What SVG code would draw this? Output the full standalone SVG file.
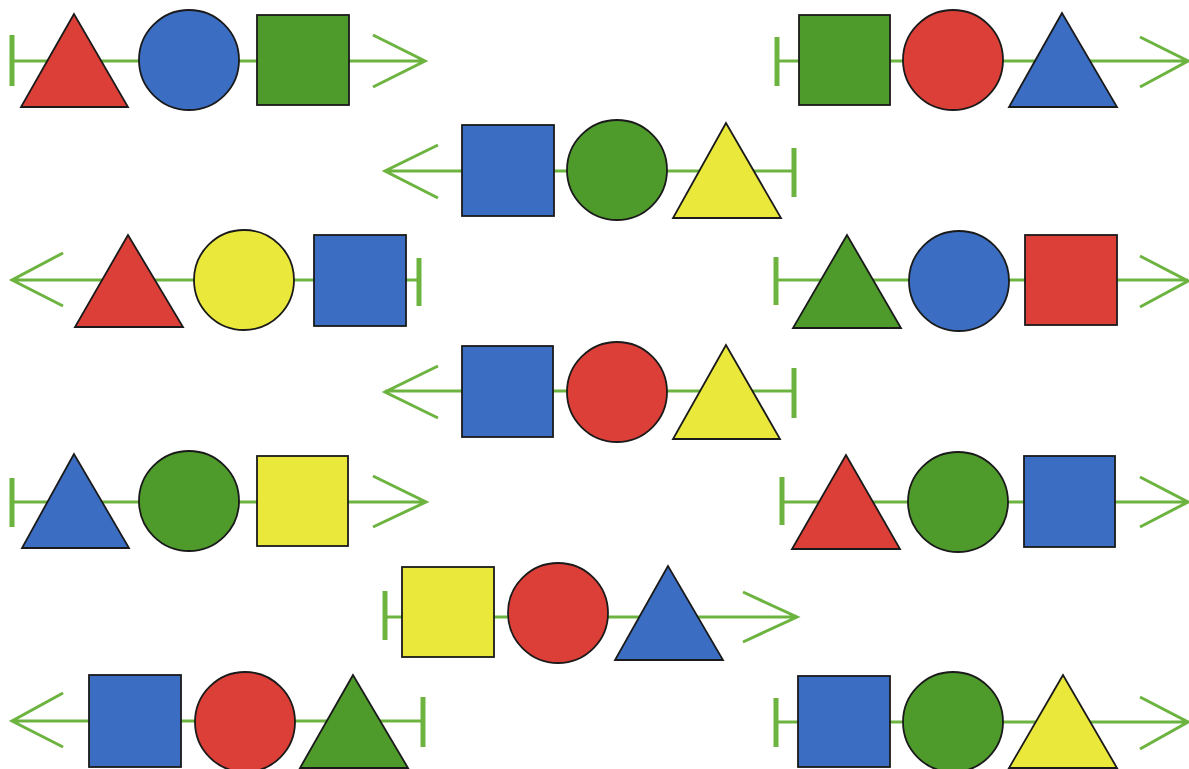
<svg xmlns="http://www.w3.org/2000/svg" width="1189" height="769" viewBox="0 0 1189 769">
<style>
.ln{stroke:#6cb33f;stroke-width:3;fill:none}
.bar{stroke:#6cb33f;stroke-width:5;fill:none}
.sh{stroke:#1a1a1a;stroke-width:1.8}
.r{fill:#dc3f37}
.b{fill:#3b6ec3}
.g{fill:#4e9a2b}
.y{fill:#ebe83c}
</style>
<rect width="1189" height="769" fill="#ffffff"/>
<g id="connectors">
<path class="ln" d="M12 61H425M373 35L425 61L373 87"/><path class="bar" d="M12 35V86"/>
<path class="ln" d="M777 61H1188M1140 37L1188 61L1140 87"/><path class="bar" d="M777 37V86"/>
<path class="ln" d="M385 171H794M438 145L385 171L438 198"/><path class="bar" d="M794 148V197"/>
<path class="ln" d="M12 280H419M63 253L12 280L63 306"/><path class="bar" d="M419 258V306"/>
<path class="ln" d="M776 280H1188M1140 256L1188 281L1140 307"/><path class="bar" d="M776 257V305"/>
<path class="ln" d="M385 391H794M438 366L385 392L438 418"/><path class="bar" d="M794 368V418"/>
<path class="ln" d="M12 502H426M373 476L426 502L373 527"/><path class="bar" d="M12 478V527"/>
<path class="ln" d="M782 502H1188M1140 477L1188 502L1140 527"/><path class="bar" d="M782 477V525"/>
<path class="ln" d="M385 617H797M743 592L797 617L743 642"/><path class="bar" d="M385 591V640"/>
<path class="ln" d="M12 721H423M63 693L12 721L63 747"/><path class="bar" d="M423 697V747"/>
<path class="ln" d="M776 722H1188M1140 697L1188 722L1140 749"/><path class="bar" d="M776 698V747"/>
</g>
<g id="row1-left">
<g id="n1a"><polygon class="sh r" points="74,14 21,107 128,107"/></g>
<g id="n1b"><circle class="sh b" cx="189" cy="60" r="50"/></g>
<g id="n1c"><rect class="sh g" x="257" y="15" width="92" height="90"/></g>
</g>
<g id="row1-right">
<g id="n2a"><rect class="sh g" x="799" y="15" width="91" height="90"/></g>
<g id="n2b"><circle class="sh r" cx="953" cy="60" r="50"/></g>
<g id="n2c"><polygon class="sh b" points="1062,13 1009,107 1117,107"/></g>
</g>
<g id="row2">
<g id="n3a"><rect class="sh b" x="462" y="125" width="92" height="91"/></g>
<g id="n3b"><circle class="sh g" cx="617" cy="170" r="50"/></g>
<g id="n3c"><polygon class="sh y" points="726,123 673,218 781,218"/></g>
</g>
<g id="row3-left">
<g id="n4a"><polygon class="sh r" points="128,235 75,327 183,327"/></g>
<g id="n4b"><circle class="sh y" cx="244" cy="280" r="50"/></g>
<g id="n4c"><rect class="sh b" x="314" y="235" width="92" height="91"/></g>
</g>
<g id="row3-right">
<g id="n5a"><polygon class="sh g" points="847,235 793,328 901,328"/></g>
<g id="n5b"><circle class="sh b" cx="959" cy="281" r="50"/></g>
<g id="n5c"><rect class="sh r" x="1025" y="235" width="92" height="90"/></g>
</g>
<g id="row4">
<g id="n6a"><rect class="sh b" x="462" y="346" width="91" height="91"/></g>
<g id="n6b"><circle class="sh r" cx="617" cy="392" r="50"/></g>
<g id="n6c"><polygon class="sh y" points="726,345 673,439 780,439"/></g>
</g>
<g id="row5-left">
<g id="n7a"><polygon class="sh b" points="74,454 22,548 129,548"/></g>
<g id="n7b"><circle class="sh g" cx="189" cy="501" r="50"/></g>
<g id="n7c"><rect class="sh y" x="257" y="456" width="91" height="90"/></g>
</g>
<g id="row5-right">
<g id="n8a"><polygon class="sh r" points="846,455 792,549 900,549"/></g>
<g id="n8b"><circle class="sh g" cx="958" cy="502" r="50"/></g>
<g id="n8c"><rect class="sh b" x="1024" y="456" width="91" height="91"/></g>
</g>
<g id="row6">
<g id="n9a"><rect class="sh y" x="402" y="567" width="92" height="90"/></g>
<g id="n9b"><circle class="sh r" cx="558" cy="613" r="50"/></g>
<g id="n9c"><polygon class="sh b" points="668,566 615,660 723,660"/></g>
</g>
<g id="row7-left">
<g id="n10a"><rect class="sh b" x="89" y="675" width="92" height="92"/></g>
<g id="n10b"><circle class="sh r" cx="245" cy="722" r="50"/></g>
<g id="n10c"><polygon class="sh g" points="353,675 300,768 408,768"/></g>
</g>
<g id="row7-right">
<g id="n11a"><rect class="sh b" x="798" y="676" width="92" height="91"/></g>
<g id="n11b"><circle class="sh g" cx="953" cy="722" r="50"/></g>
<g id="n11c"><polygon class="sh y" points="1063,675 1009,768 1117,768"/></g>
</g>
</svg>
